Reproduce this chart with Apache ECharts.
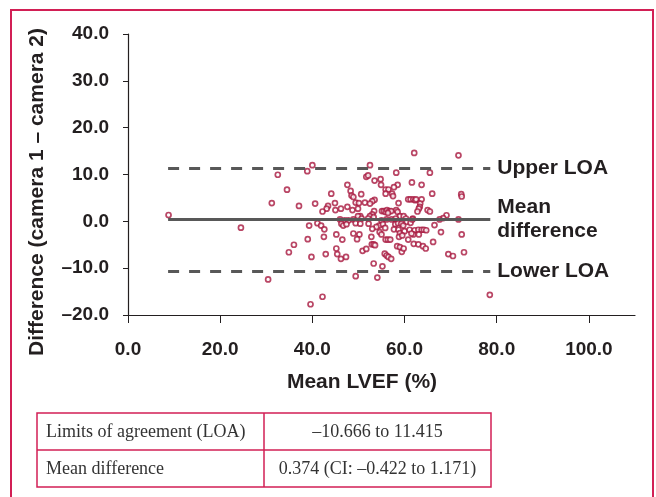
<!DOCTYPE html>
<html><head><meta charset="utf-8">
<script src="https://cdn.jsdelivr.net/npm/echarts@6/dist/echarts.min.js"></script>
<style>html,body{margin:0;padding:0;background:#fff}#c{width:656px;height:497px}</style>
</head><body><div id="c"></div>
<script>
// Mean LVEF (%) and Difference (camera 1 - camera 2)
const meanLVEF = [8.8,32.5,34.5,31.2,37.1,24.5,36.0,34.9,30.4,
62.1,71.7,40.0,52.5,38.9,58.2,65.5,
51.7,52.1,53.5,54.8,54.9,47.6,61.6,63.7,58.5,57.7,
55.9,56.5,48.3,48.5,48.9,44.1,50.6,55.9,57.3,57.5,66.0,72.3,72.4,53.5,60.8,61.3,61.9,62.3,62.5,63.7,
53.0,58.7,49.4,50.1,51.4,52.5,40.6,43.4,43.1,44.9,45.0,46.2,47.6,48.7,49.9,42.2,63.4,63.3,63.1,62.8,65.0,65.5,53.4,55.1,55.5,55.9,56.2,56.7,58.2,58.5,57.1,
53.0,56.4,59.0,59.8,60.3,61.8,50.4,49.9,52.5,52.1,53.3,50.7,56.1,57.2,55.0,58.2,46.0,47.0,47.8,48.9,69.1,68.4,67.6,71.7,41.1,39.3,41.9,46.3,46.7,47.4,49.4,50.4,52.2,54.5,53.9,55.3,58.0,58.6,59.3,60.5,61.3,61.7,58.1,
42.6,45.2,39.0,42.5,46.5,48.9,50.2,49.7,53.0,52.8,54.6,55.0,55.8,57.7,58.7,59.0,58.8,60.0,61.1,62.2,63.0,63.7,64.2,64.7,61.9,63.1,66.5,67.9,72.4,55.9,56.4,56.9,60.8,59.5,59.7,61.5,
39.8,42.9,45.2,45.4,46.2,47.3,50.9,51.7,52.9,53.3,53.6,55.7,56.1,56.5,57.1,58.4,59.0,59.4,59.8,62.0,63.0,64.0,64.6,66.2,69.5,70.5,72.9,
53.3,55.2,49.4,54.1,
42.2,39.6,78.5];
const difference = [1.35,9.95,6.75,3.9,3.3,-1.35,-5.0,-6.6,-12.4,
14.6,14.1,12.0,12.0,10.7,10.4,10.4,
9.5,9.8,8.7,9.0,7.8,7.8,8.3,7.8,7.8,7.3,
6.8,6.8,6.5,5.5,5.2,5.9,5.8,5.9,5.9,5.4,5.9,5.8,5.3,4.6,4.7,4.7,4.7,4.5,4.7,4.7,
4.3,3.9,4.0,3.9,4.0,3.8,3.8,3.3,2.7,3.9,2.4,2.7,3.1,2.4,2.7,2.1,3.8,3.1,2.7,2.1,2.4,2.1,2.2,2.2,2.2,2.0,2.4,2.2,2.4,2.0,2.2,
1.5,1.8,1.1,1.1,0.6,0.6,1.1,1.1,1.1,0.6,0.9,0.6,0.4,0.4,0.2,0.2,0.4,0.2,0.2,0.4,1.3,0.7,0.4,0.4,-0.4,-0.9,-0.9,-0.5,-0.9,-0.6,-0.4,-0.5,-0.5,-0.9,-1.2,-0.6,-0.6,-0.4,-0.5,-0.1,-0.3,0.4,0.6,
-1.7,-2.8,-3.8,-3.3,-3.9,-2.6,-2.8,-3.8,-1.6,-3.3,-2.3,-2.8,-1.4,-1.7,-1.8,-2.5,-3.3,-2.1,-1.8,-1.9,-1.8,-1.8,-1.8,-1.9,-2.8,-2.8,-0.8,-2.3,-2.8,-3.9,-3.9,-3.9,-3.9,-3.0,-0.9,-2.6,
-7.6,-7.0,-5.8,-7.0,-8.0,-7.6,-6.3,-5.9,-4.9,-4.9,-5.1,-6.9,-7.3,-7.6,-8.0,-5.3,-5.5,-6.5,-5.8,-4.8,-4.9,-5.3,-5.8,-4.4,-7.0,-7.4,-6.6,
-9.0,-9.6,-11.7,-12.0,
-16.1,-17.7,-15.7];
const xTicks = [0, 20, 40, 60, 80, 100];
const upperLOA = 11.415, lowerLOA = -10.666, meanDiff = 0.374;
const lineSpan = [8.7, 78.6];
const tableRows = [
  ['Limits of agreement (LOA)', '\u201310.666 to 11.415'],
  ['Mean difference', '0.374 (CI: \u20130.422 to 1.171)']
];

const RED = '#d21f55', PT = '#a8183f', INK = '#231f20', GREY = '#585858';
const SANS = '"Liberation Sans", Arial, sans-serif';
const SERIF = '18px "Liberation Serif", "Times New Roman", serif';
const fmt = v => (v < 0 ? '\u2013' + Math.abs(v).toFixed(1) : v.toFixed(1));
const tick = {fontFamily:SANS, fontWeight:'bold', fontSize:19, color:INK};

const chart = echarts.init(document.getElementById('c'), null, {renderer:'canvas'});
const pts = meanLVEF.map((x, i) => [x, difference[i]]);
const ml = (y, label, dashed) => [
  {coord:[lineSpan[0], y], lineStyle:{type: dashed ? [11,10] : 'solid', color:GREY, width:3}, label:{formatter:label}},
  {coord:[lineSpan[1], y]}
];
chart.setOption({
  animation:false,
  grid:{left:128, right:21, top:34, bottom:182},
  xAxis:{type:'value', min:0, max:110,
    axisLine:{onZero:false, lineStyle:{color:INK, width:1.2}},
    axisTick:{customValues:xTicks, length:8, lineStyle:{color:INK}},
    axisLabel:Object.assign({customValues:xTicks, margin:25, formatter:fmt}, tick),
    splitLine:{show:false}},
  yAxis:{type:'value', min:-20, max:40, interval:10,
    axisLine:{show:true, onZero:false, lineStyle:{color:INK, width:1.2}},
    axisTick:{show:true, length:5, lineStyle:{color:INK}},
    axisLabel:Object.assign({margin:19, formatter:fmt}, tick),
    splitLine:{show:false}},
  series:[{
    type:'scatter', data:pts, symbol:'circle', symbolSize:5, z:3,
    itemStyle:{color:'#fff', borderColor:PT, borderWidth:1.7},
    markLine:{silent:true, symbol:'none', animation:false,
      label:{show:true, position:'end', distance:7, color:INK, fontFamily:SANS, fontWeight:'bold', fontSize:21, lineHeight:24, align:'left'},
      data:[ml(upperLOA,'Upper LOA',true), ml(meanDiff,'Mean\ndifference',false), ml(lowerLOA,'Lower LOA',true)]}
  }],
  graphic:[
    {type:'rect', shape:{x:11, y:10, width:642, height:520}, style:{fill:'none', stroke:RED, lineWidth:2}, silent:true},
    {type:'text', x:37, y:192, rotation:Math.PI/2, style:{text:'Difference (camera 1 \u2013 camera 2)', align:'center', verticalAlign:'middle', fill:INK, font:'bold 21px ' + SANS}},
    {type:'text', x:362, y:382, style:{text:'Mean LVEF (%)', align:'center', verticalAlign:'middle', fill:INK, font:'bold 21px ' + SANS}},
    {type:'rect', shape:{x:37, y:413, width:454, height:74}, style:{fill:'none', stroke:RED, lineWidth:1.5}},
    {type:'line', shape:{x1:37, y1:450, x2:491, y2:450}, style:{stroke:RED, lineWidth:1.5}},
    {type:'line', shape:{x1:264, y1:413, x2:264, y2:487}, style:{stroke:RED, lineWidth:1.5}},
    {type:'text', x:46, y:432, style:{text:tableRows[0][0], align:'left', verticalAlign:'middle', fill:'#333', font:SERIF}},
    {type:'text', x:377.5, y:432, style:{text:tableRows[0][1], align:'center', verticalAlign:'middle', fill:'#333', font:SERIF}},
    {type:'text', x:46, y:469, style:{text:tableRows[1][0], align:'left', verticalAlign:'middle', fill:'#333', font:SERIF}},
    {type:'text', x:377.5, y:469, style:{text:tableRows[1][1], align:'center', verticalAlign:'middle', fill:'#333', font:SERIF}}
  ]
});
</script></body></html>
